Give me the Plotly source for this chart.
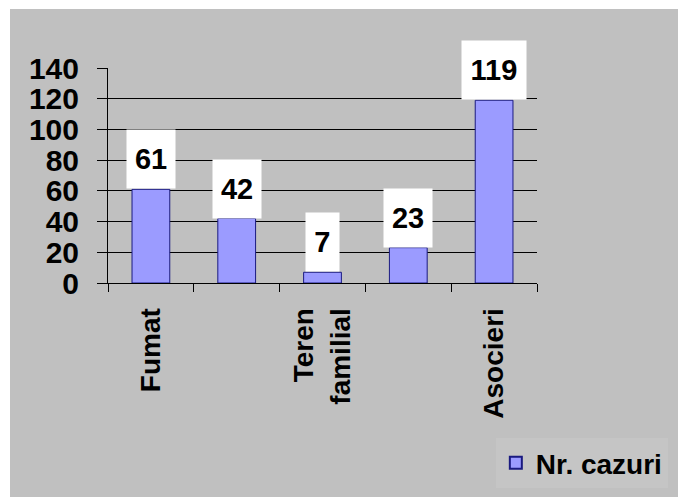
import plotly.graph_objects as go

# Number of cases per category (two of the five category names are not shown on the axis)
positions = [0, 1, 2, 3, 4]
values = [61, 42, 7, 23, 119]
tick_labels = ["Fumat", "", "Teren<br>familial", "", "Asocieri"]
series_name = "Nr. cazuri"
y_ticks = [0, 20, 40, 60, 80, 100, 120, 140]

FONT = "Liberation Sans, Arial, sans-serif"
BG = "#c0c0c0"

fig = go.Figure()
fig.add_trace(go.Bar(
    x=positions,
    y=values,
    name=series_name,
    width=0.44,
    marker=dict(color="#9b9bff", line=dict(color="#1a1a80", width=1)),
    showlegend=True,
))

# White value boxes sitting on top of each bar
for xv, v in zip(positions, values):
    txt = str(v)
    fig.add_annotation(
        x=xv, y=v, xref="x", yref="y",
        text=f"<b>{txt}</b>",
        showarrow=False,
        yanchor="bottom",
        bgcolor="white",
        borderpad=0,
        width=len(txt) * 15.6 + 17,
        height=58,
        align="center",
        valign="middle",
        font=dict(family=FONT, size=29, color="black"),
    )

# Gray border on the top and right side of the plot area
fig.add_shape(type="line", xref="paper", yref="paper", x0=0, x1=1, y0=1, y1=1,
              line=dict(color="#7a7a7a", width=1), layer="between")
fig.add_shape(type="line", xref="paper", yref="paper", x0=1, x1=1, y0=1, y1=-0.033,
              line=dict(color="#7a7a7a", width=1), layer="between")

# Gray chart area inset from the top/left page edge
fig.add_shape(type="rect", xref="paper", yref="paper",
              x0=-98 / 429, x1=141 / 429 + 1, y0=-214 / 215, y1=1 + 59 / 215,
              fillcolor=BG, line=dict(width=0), layer="below")

fig.update_layout(
    width=678, height=497,
    margin=dict(l=108, r=141, t=68, b=214, autoexpand=False),
    paper_bgcolor="white",
    plot_bgcolor="rgba(0,0,0,0)",
    font=dict(family=FONT, color="black"),
    bargap=0.56,
    legend=dict(
        xref="container", yref="container",
        x=0.985, y=0.018, xanchor="right", yanchor="bottom",
        bgcolor="#c5c5c5",
        font=dict(family=FONT, size=28, color="black", weight="bold"),
        itemsizing="constant",
    ),
)

fig.update_xaxes(
    range=[-0.5, 4.5],
    tickvals=positions,
    ticktext=[f"<b>{t}</b>" if t else "" for t in tick_labels],
    tickangle=-90,
    ticks="",
    tickfont=dict(family=FONT, size=28, color="black"),
    ticklabelstandoff=13,
    showline=True, linecolor="black", linewidth=1,
    showgrid=False, zeroline=False,
    minor=dict(tick0=-0.5, dtick=1, ticks="outside", ticklen=8,
               tickcolor="black", tickwidth=1, showgrid=False),
)

fig.update_yaxes(
    range=[0, 140],
    tickvals=y_ticks,
    ticktext=[f"<b>{t}</b>" for t in y_ticks],
    ticks="outside", ticklen=10, tickcolor="black", tickwidth=1,
    tickfont=dict(family=FONT, size=30, color="black"),
    ticklabelstandoff=12,
    showline=True, linecolor="black", linewidth=1,
    showgrid=True, gridcolor="black", gridwidth=1,
    zeroline=False,
)

fig.write_html("out.html")
